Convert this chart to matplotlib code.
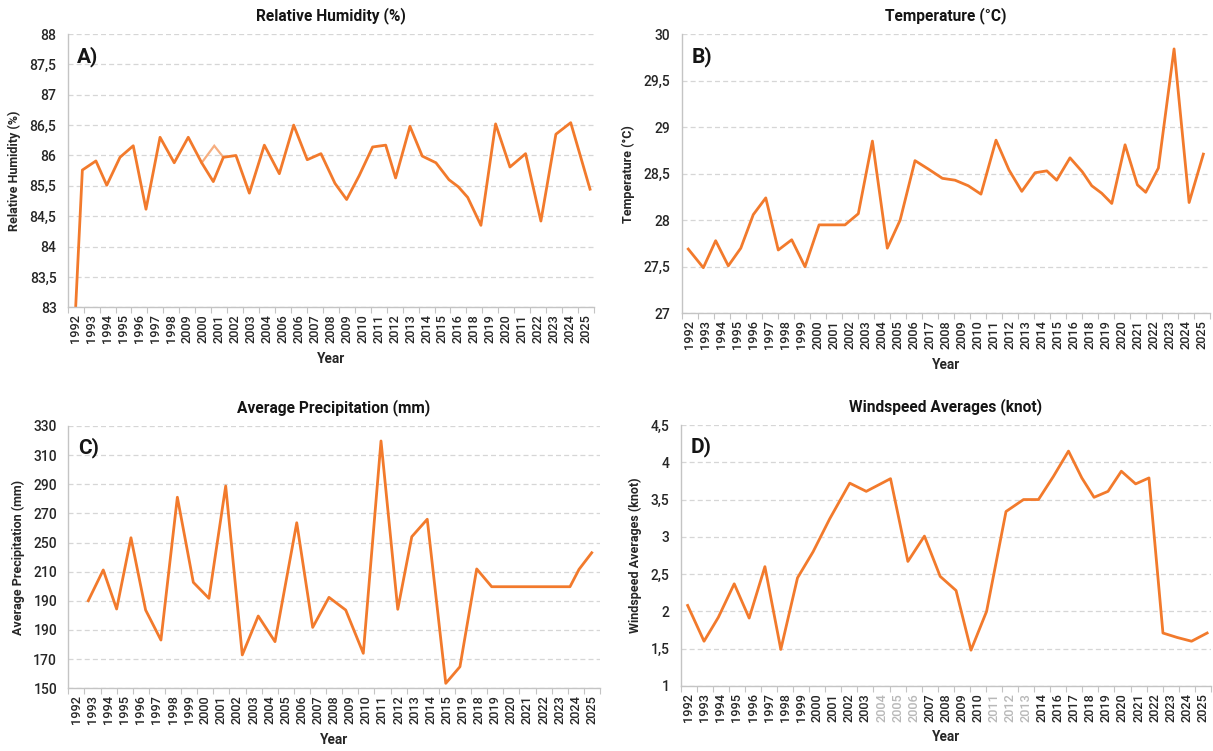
import numpy as np
import matplotlib
matplotlib.use("Agg")
import matplotlib.pyplot as plt

plt.rcParams['font.family'] = ['Roboto', 'DejaVu Sans']

# --- datos (x = posicion sobre las categorias) ---
hum_x = [0.00, 0.42, 1.27, 1.95, 2.78, 3.61, 4.41, 5.29, 6.18, 7.06, 7.90, 8.63, 9.26, 10.05,
         10.89, 11.83, 12.77, 13.67, 14.52, 15.38, 16.26, 16.99, 17.78, 18.62, 19.44, 20.06,
         20.96, 21.73, 22.59, 23.41, 23.99, 24.58, 25.41, 26.33, 27.23, 28.21, 29.17, 30.11,
         31.04, 32.25]
hum_y = [83.0, 85.76, 85.91, 85.51, 85.97, 86.16, 84.73, 86.30, 85.88, 86.30, 85.88, 85.57,
         85.97, 86.0, 85.26, 86.17, 85.70, 86.50, 85.93, 86.03, 85.54, 85.05, 85.67, 86.14,
         86.17, 85.63, 86.48, 85.99, 85.88, 85.60, 85.47, 85.12, 84.35, 86.52, 85.81, 86.03,
         84.42, 86.35, 86.54, 85.39]
hum_alt_x = [7.90, 8.69, 9.26]
hum_alt_y = [85.88, 86.16, 85.97]

temp_x = [-0.09, 0.85, 1.62, 2.41, 3.19, 3.97, 4.75, 5.53, 6.37, 7.20, 8.08, 8.87, 9.70, 10.53,
          11.41, 12.34, 13.14, 14.07, 14.90, 15.78, 16.57, 17.40, 18.19, 19.13, 19.94, 20.74,
          21.57, 22.30, 22.92, 23.75, 24.52, 25.11, 25.73, 26.36, 27.19, 27.96, 28.48, 29.27,
          30.25, 31.19, 32.08]
temp_y = [27.69, 27.49, 27.78, 27.51, 27.70, 28.06, 28.24, 27.68, 27.79, 27.50, 27.95, 27.95,
          27.95, 28.07, 28.85, 27.70, 28.0, 28.64, 28.55, 28.45, 28.43, 28.37, 28.28, 28.86,
          28.54, 28.31, 28.51, 28.53, 28.43, 28.67, 28.52, 28.37, 28.29, 28.18, 28.81, 28.38,
          28.30, 28.56, 29.84, 28.19, 28.71]

prec_x = [0.74, 1.67, 2.50, 3.39, 4.30, 5.25, 6.27, 7.26, 8.23, 9.27, 10.30, 11.29, 12.33,
          13.68, 14.67, 15.68, 16.72, 17.81, 18.91, 19.95, 20.82, 21.78, 22.93, 23.81, 24.85,
          25.78, 30.64, 31.20, 31.99]
prec_y = [210.1, 231.2, 204.4, 253.3, 203.7, 183.1, 281.1, 222.7, 211.7, 288.8, 172.9, 199.6,
          182.0, 263.6, 191.8, 212.4, 203.7, 174.0, 319.7, 204.2, 254.0, 266.0, 153.4, 164.8,
          231.9, 219.7, 219.7, 231.6, 243.0]

wind_x = [-0.07, 0.95, 1.84, 2.83, 3.76, 4.74, 5.73, 6.77, 7.74, 8.77, 10.02, 11.05, 12.56,
          13.64, 14.67, 15.65, 16.64, 17.57, 18.54, 19.75, 20.84, 21.77, 22.70, 23.64, 24.47,
          25.23, 26.10, 26.93, 27.82, 28.65, 29.52, 30.41, 31.30, 32.27]
wind_y = [2.08, 1.60, 1.92, 2.37, 1.91, 2.60, 1.49, 2.45, 2.80, 3.24, 3.72, 3.61, 3.78, 2.67,
          3.01, 2.47, 2.28, 1.48, 2.0, 3.34, 3.50, 3.50, 3.81, 4.15, 3.79, 3.53, 3.61, 3.88,
          3.71, 3.79, 1.71, 1.65, 1.60, 1.71]

# etiquetas del eje x (tal como aparecen en la figura)
hum_years = ["1992", "1993", "1994", "1995", "1996", "1997", "1998", "2009", "2000", "2001",
             "2002", "2003", "2004", "2006", "2006", "2007", "2008", "2009", "2010", "2011",
             "2012", "2013", "2014", "2015", "2016", "2018", "2019", "2020", "2011", "2022",
             "2023", "2024", "2025"]
temp_years = [str(y) for y in range(1992, 2007)] + ["2017"] + \
             [str(y) for y in range(2008, 2017)] + [str(y) for y in range(2018, 2026)]
prec_years = [str(y) for y in range(1992, 2016)] + ["2019"] + [str(y) for y in range(2018, 2026)]
wind_years = [str(y) for y in range(1992, 2015)] + [str(y) for y in range(2016, 2026)]
wind_faded = ["2004", "2005", "2006", "2011", "2012", "2013"]

# etiquetas del eje y
hum_ticks = [83, 83.5, 84, 84.5, 85.5, 86, 86.5, 87, 87.5, 88]
hum_tick_labels = ["83", "83,5", "84", "84,5", "85,5", "86", "86,5", "87", "87,5", "88"]
temp_ticks = [27, 27.5, 28, 28.5, 29, 29.5, 30]
temp_tick_labels = ["27", "27,5", "28", "28,5", "29", "29,5", "30"]
prec_ticks = [150, 170, 190, 210, 230, 250, 270, 290, 310, 330]
prec_tick_labels = ["150", "170", "190", "190", "210", "250", "270", "290", "310", "330"]
wind_ticks = [1, 1.5, 2, 2.5, 3, 3.5, 4, 4.5]
wind_tick_labels = ["1", "1,5", "2", "2,5", "3", "3,5", "4", "4,5"]

ORANGE = '#F27A2C'
GRID = '#d6d6d6'
SPINE = '#c4c4c4'
TXT = '#262626'

fig = plt.figure(figsize=(12.13, 7.51), dpi=100)
fig.patch.set_facecolor('white')


def style_panel(ax, years, yticks, ylabels, title, ylabel, letter, faded=()):
    n = len(years)
    ax.set_xlim(-0.5, n - 0.5)
    ax.set_xticks(range(n))
    ax.set_xticklabels(years, rotation=90, fontsize=9.2, color=TXT, fontweight='medium')
    for lbl in ax.get_xticklabels():
        if lbl.get_text() in faded:
            lbl.set_color('#b8b8b8')
    ax.set_xticks(np.arange(-0.5, n, 1.0), minor=True)
    ax.tick_params(axis='x', which='major', length=0, pad=5)
    ax.tick_params(axis='x', which='minor', length=4, color=SPINE, width=0.8)
    ax.set_yticks(yticks, ylabels)
    for lbl in ax.get_yticklabels():
        lbl.set_fontweight('medium')
    ax.tick_params(axis='y', length=0, labelsize=10, labelcolor=TXT, pad=8)
    ax.grid(axis='y', color=GRID, linestyle=(0, (4, 2.5)), linewidth=0.9)
    ax.set_axisbelow(True)
    for s in ['top', 'right']:
        ax.spines[s].set_visible(False)
    for s in ['left', 'bottom']:
        ax.spines[s].set_color(SPINE)
        ax.spines[s].set_linewidth(1.0)
    ax.set_title(title, fontsize=11.2, fontweight='bold', color='#151515', pad=10)
    ax.set_ylabel(ylabel, fontsize=9, fontweight='bold', color=TXT, labelpad=6)
    ax.set_xlabel('Year', fontsize=9.8, fontweight='bold', color=TXT, labelpad=6)
    ax.text(0.018, 0.955, letter, transform=ax.transAxes, fontsize=15, fontweight='bold',
            color='#151515', va='top', ha='left')


# A) humedad relativa
axA = fig.add_axes([0.0558, 0.5908, 0.4339, 0.3639])
fwd = lambda v: np.interp(v, hum_ticks, np.arange(len(hum_ticks)))
inv = lambda u: np.interp(u, np.arange(len(hum_ticks)), hum_ticks)
axA.set_yscale('function', functions=(fwd, inv))
axA.plot(hum_alt_x, hum_alt_y, color='#F6AE80', lw=1.6, solid_joinstyle='miter')
axA.plot(hum_x, hum_y, color=ORANGE, lw=2.0)
axA.set_ylim(83, 88)
style_panel(axA, hum_years, hum_ticks, hum_tick_labels, 'Relative Humidity (%)',
            'Relative Humidity (%)', 'A)')

# B) temperatura
axB = fig.add_axes([0.5620, 0.5828, 0.4356, 0.3719])
axB.plot(temp_x, temp_y, color=ORANGE, lw=2.0)
axB.set_ylim(27, 30)
style_panel(axB, temp_years, temp_ticks, temp_tick_labels, 'Temperature (°C)',
            'Temperature (°C)', 'B)')

# C) precipitacion
axC = fig.add_axes([0.0563, 0.0835, 0.4383, 0.3493])
axC.plot(prec_x, prec_y, color=ORANGE, lw=2.0)
axC.set_ylim(150, 330)
style_panel(axC, prec_years, prec_ticks, prec_tick_labels, 'Average Precipitation (mm)',
            'Average Precipitation (mm)', 'C)')

# D) viento
axD = fig.add_axes([0.5612, 0.0866, 0.4370, 0.3475])
axD.plot(wind_x, wind_y, color=ORANGE, lw=2.0)
axD.set_ylim(1, 4.5)
style_panel(axD, wind_years, wind_ticks, wind_tick_labels, 'Windspeed Averages (knot)',
            'Windspeed Averages (knot)', 'D)', faded=wind_faded)

fig.savefig('out.png', dpi=100, facecolor='white')
